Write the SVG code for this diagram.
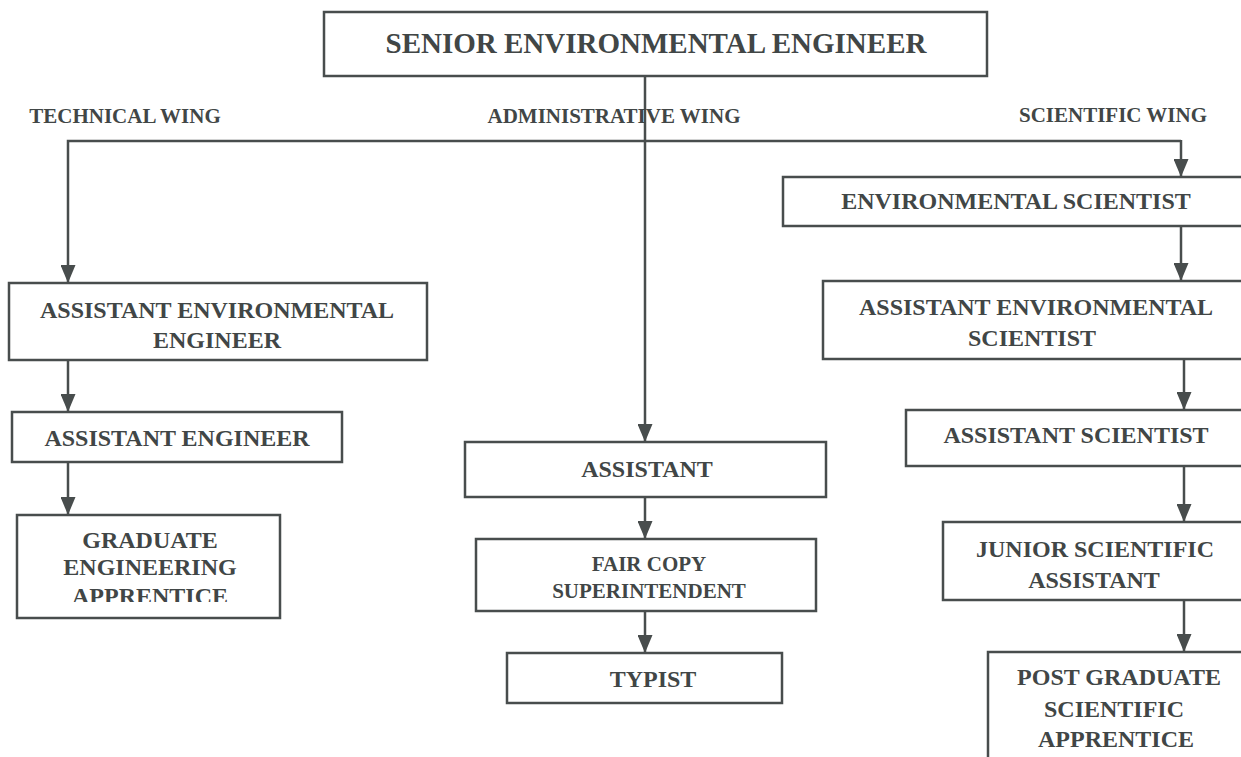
<svg xmlns="http://www.w3.org/2000/svg" width="1241" height="757" viewBox="0 0 1241 757">
  <style>
    .box { fill: #ffffff; stroke: #484d4d; stroke-width: 2.5; }
    .t { font-family: "Liberation Serif", "Times New Roman", serif; font-weight: bold; fill: #414646; text-anchor: middle; font-size: 24px; }
    .wing { font-size: 21px; }
    .small { font-size: 21px; }
    .head { font-size: 29px; }
    .conn { fill: none; stroke: #484d4d; stroke-width: 2.5; }
  </style>
  <defs>
    <marker id="arrow" markerUnits="userSpaceOnUse" markerWidth="18" markerHeight="15" viewBox="0 0 18 15" refX="18" refY="7.5" orient="auto">
      <path d="M0,0 L18,7.5 L0,15 Z" fill="#484d4d"/>
    </marker>
    <clipPath id="clipGea">
      <rect x="0" y="515" width="300" height="87"/>
    </clipPath>
  </defs>

  <rect width="1241" height="757" fill="#ffffff"/>

  <!-- connectors -->
  <g id="connectors">
    <path class="conn" d="M645,76 V442" marker-end="url(#arrow)"/>
    <path class="conn" d="M1181,141 H68 V283" marker-end="url(#arrow)"/>
    <path class="conn" d="M1181,140 V177" marker-end="url(#arrow)"/>
    <path class="conn" d="M68,360 V412" marker-end="url(#arrow)"/>
    <path class="conn" d="M68,462 V515" marker-end="url(#arrow)"/>
    <path class="conn" d="M645,497 V539" marker-end="url(#arrow)"/>
    <path class="conn" d="M645,611 V653" marker-end="url(#arrow)"/>
    <path class="conn" d="M1181,226 V281" marker-end="url(#arrow)"/>
    <path class="conn" d="M1184,359 V410" marker-end="url(#arrow)"/>
    <path class="conn" d="M1184,466 V522" marker-end="url(#arrow)"/>
    <path class="conn" d="M1184,600 V652" marker-end="url(#arrow)"/>
  </g>

  <!-- wing labels -->
  <g id="labels">
    <text class="t wing" x="125" y="123">TECHNICAL WING</text>
    <text class="t wing" x="614" y="123">ADMINISTRATIVE WING</text>
    <text class="t wing" x="1113" y="122">SCIENTIFIC WING</text>
  </g>

  <g id="senior-environmental-engineer">
    <rect class="box" x="324" y="12" width="663" height="64"/>
    <text class="t head" x="656" y="53">SENIOR ENVIRONMENTAL ENGINEER</text>
  </g>

  <!-- technical wing -->
  <g id="assistant-environmental-engineer">
    <rect class="box" x="9" y="283" width="418" height="77"/>
    <text class="t" x="217" y="318">ASSISTANT ENVIRONMENTAL</text>
    <text class="t" x="217" y="348">ENGINEER</text>
  </g>
  <g id="assistant-engineer">
    <rect class="box" x="12" y="412" width="330" height="50"/>
    <text class="t" x="177" y="446">ASSISTANT ENGINEER</text>
  </g>
  <g id="graduate-engineering-apprentice">
    <rect class="box" x="17" y="515" width="263" height="103"/>
    <text class="t" x="150" y="548">GRADUATE</text>
    <text class="t" x="150" y="575">ENGINEERING</text>
    <text class="t" x="150" y="604" clip-path="url(#clipGea)">APPRENTICE</text>
  </g>

  <!-- administrative wing -->
  <g id="assistant">
    <rect class="box" x="465" y="442" width="361" height="55"/>
    <text class="t" x="647" y="477">ASSISTANT</text>
  </g>
  <g id="fair-copy-superintendent">
    <rect class="box" x="476" y="539" width="340" height="72"/>
    <text class="t small" x="649" y="571">FAIR COPY</text>
    <text class="t small" x="649" y="598">SUPERINTENDENT</text>
  </g>
  <g id="typist">
    <rect class="box" x="507" y="653" width="275" height="50"/>
    <text class="t" x="653" y="687">TYPIST</text>
  </g>

  <!-- scientific wing -->
  <g id="environmental-scientist">
    <rect class="box" x="783" y="177" width="470" height="49"/>
    <text class="t" x="1016" y="209">ENVIRONMENTAL SCIENTIST</text>
  </g>
  <g id="assistant-environmental-scientist">
    <rect class="box" x="823" y="281" width="430" height="78"/>
    <text class="t" x="1036" y="315">ASSISTANT ENVIRONMENTAL</text>
    <text class="t" x="1032" y="346">SCIENTIST</text>
  </g>
  <g id="assistant-scientist">
    <rect class="box" x="906" y="410" width="347" height="56"/>
    <text class="t" x="1076" y="443">ASSISTANT SCIENTIST</text>
  </g>
  <g id="junior-scientific-assistant">
    <rect class="box" x="943" y="522" width="310" height="78"/>
    <text class="t" x="1095" y="557">JUNIOR SCIENTIFIC</text>
    <text class="t" x="1094" y="588">ASSISTANT</text>
  </g>
  <g id="post-graduate-scientific-apprentice">
    <rect class="box" x="988" y="652" width="265" height="120"/>
    <text class="t" x="1119" y="685">POST GRADUATE</text>
    <text class="t" x="1114" y="717">SCIENTIFIC</text>
    <text class="t" x="1116" y="747">APPRENTICE</text>
  </g>
</svg>
